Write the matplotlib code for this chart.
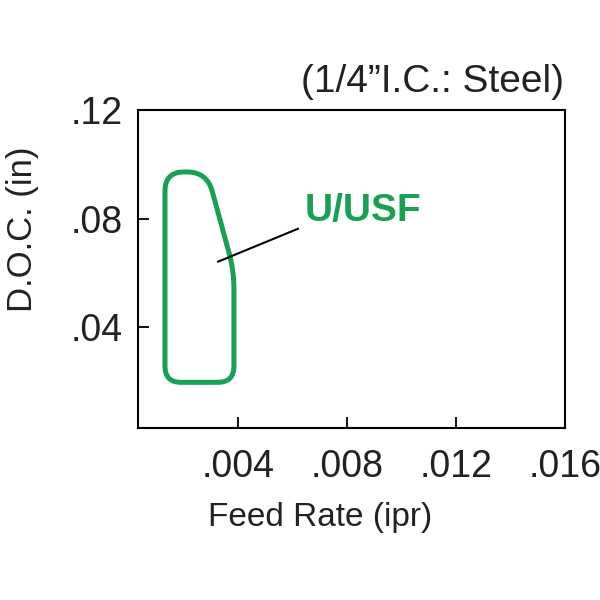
import matplotlib
matplotlib.use("Agg")
import matplotlib.pyplot as plt
from matplotlib.path import Path
from matplotlib.patches import PathPatch
import numpy as np

plt.rcParams['font.family'] = ['Liberation Sans', 'DejaVu Sans']

# Data
x_ticks = [0.004, 0.008, 0.012, 0.016]
x_ticklabels = ['.004', '.008', '.012', '.016']
y_ticks = [0.04, 0.08, 0.12]
y_ticklabels = ['.04', '.08', '.12']
# region outline corners (feed, doc)
region_feed = [0.00132, 0.00286, 0.00385, 0.00385, 0.00132]
region_doc = [0.0972, 0.0972, 0.0609, 0.0198, 0.0198]
region_label = 'U/USF'
label_pos = (0.00645, 0.0829)
leader_feed = [0.00327, 0.0062]
leader_doc = [0.0642, 0.0763]

GREEN = '#18a055'

fig = plt.figure(figsize=(6, 6), dpi=100)
ax = fig.add_axes([0.23, 0.2867, 0.7117, 0.53])
ax.set_xlim(0.00033, 0.016)
ax.set_ylim(0.003, 0.12)

# rounded polygon built in display space, transformed back to data
pts = np.column_stack([region_feed, region_doc])
disp = ax.transData.transform(pts)
radii = [19, 20, 18, 16, 16]
verts, codes = [], []
n = len(disp)
for i in range(n):
    p = disp[i]
    prev = disp[i - 1]
    nxt = disp[(i + 1) % n]
    r = radii[i]
    d1 = (prev - p) / np.linalg.norm(prev - p)
    d2 = (nxt - p) / np.linalg.norm(nxt - p)
    a = p + d1 * r
    b = p + d2 * r
    verts.append(a); codes.append(Path.MOVETO if i == 0 else Path.LINETO)
    verts.append(p); codes.append(Path.CURVE3)
    verts.append(b); codes.append(Path.CURVE3)
verts.append(verts[0]); codes.append(Path.LINETO)
data_verts = ax.transData.inverted().transform(np.array(verts))
path = Path(data_verts, codes)
ax.add_patch(PathPatch(path, facecolor='none', edgecolor=GREEN, lw=3.6, joinstyle='round'))

ax.plot(leader_feed, leader_doc, color='black', lw=1.5)
ax.text(label_pos[0], label_pos[1], region_label, color=GREEN, fontsize=28,
        fontweight='bold', ha='left', va='center')

ax.set_xticks(x_ticks)
ax.set_xticklabels(x_ticklabels)
ax.set_yticks(y_ticks)
ax.set_yticklabels(y_ticklabels)
ax.tick_params(direction='in', length=8, width=1.3, labelsize=27, pad=15,
               colors='black', labelcolor='#222222')
ax.tick_params(axis='y', pad=11)
for s in ax.spines.values():
    s.set_linewidth(1.5)

fig.text(0.533, 0.138, 'Feed Rate (ipr)', fontsize=24, ha='center', va='center', color='#222222')
fig.text(0.037, 0.618, 'D.O.C. (in)', fontsize=25, ha='center', va='center',
         rotation=90, color='#222222')
fig.text(0.94, 0.863, '(1/4\u201dI.C.: Steel)', fontsize=28, ha='right', va='center',
         color='#222222')

fig.savefig('out.png', dpi=100)
